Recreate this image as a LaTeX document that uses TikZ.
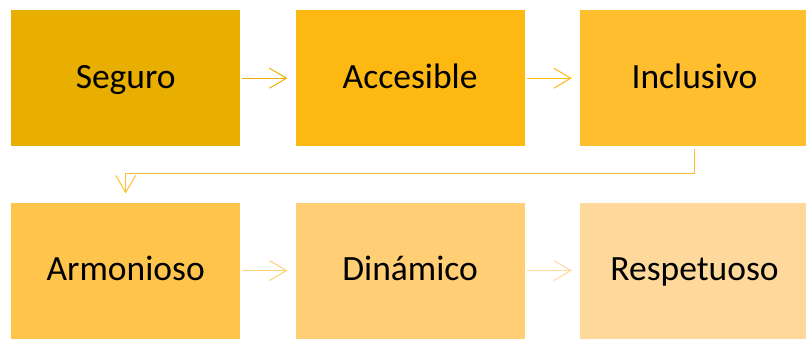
\documentclass[tikz,border=0pt]{standalone}
\usepackage{fontspec}
\setmainfont{Carlito}
\usepackage{tikz}
\usetikzlibrary{arrows.meta,positioning,calc}

\definecolor{goldA}{RGB}{232,174,0}
\definecolor{goldB}{RGB}{253,185,17}
\definecolor{goldC}{RGB}{254,190,46}
\definecolor{goldD}{RGB}{255,196,76}
\definecolor{goldE}{RGB}{255,206,117}
\definecolor{goldF}{RGB}{255,217,156}

\begin{document}
\begin{tikzpicture}[
      x=1pt,y=1pt,
      valuebox/.style={rectangle,minimum width=229pt,minimum height=136pt,inner sep=0pt,
        text height=26pt,text depth=6pt,font=\fontsize{35.5}{42}\selectfont},
      flow/.style={line width=1pt,shorten <=2pt,shorten >=8pt,
        -{Straight Barb[length=17pt,width=20pt,line width=1pt]}},
      node distance=55pt and 55pt
    ]
    \useasboundingbox (0,0) rectangle (806,-338);

    % row one
    \node[valuebox,fill=goldA,anchor=north west] (seguro) at (11,-10) {Seguro};
    \node[valuebox,fill=goldB,right=of seguro] (accesible) {Accesible};
    \node[valuebox,fill=goldC,right=of accesible] (inclusivo) {Inclusivo};

    % row two
    \node[valuebox,fill=goldD,below=56pt of seguro] (armonioso) {Armonioso};
    \node[valuebox,fill=goldE,right=of armonioso] (dinamico) {Dinámico};
    \node[valuebox,fill=goldF,right=of dinamico] (respetuoso) {Respetuoso};

    % the arrows
    \draw[flow,draw=goldA!90!goldB] (seguro) -- (accesible);
    \draw[flow,draw=goldB] (accesible) -- (inclusivo);
    \coordinate (bend) at ($(inclusivo.south)+(0,-27)$);
    \draw[flow,draw=goldC,shorten <=3pt,shorten >=9pt]
      (inclusivo.south) -- (bend) -| (armonioso.north);
    \draw[flow,draw=goldE] (armonioso) -- (dinamico);
    \draw[flow,draw=goldF] (dinamico) -- (respetuoso);
\end{tikzpicture}
\end{document}
